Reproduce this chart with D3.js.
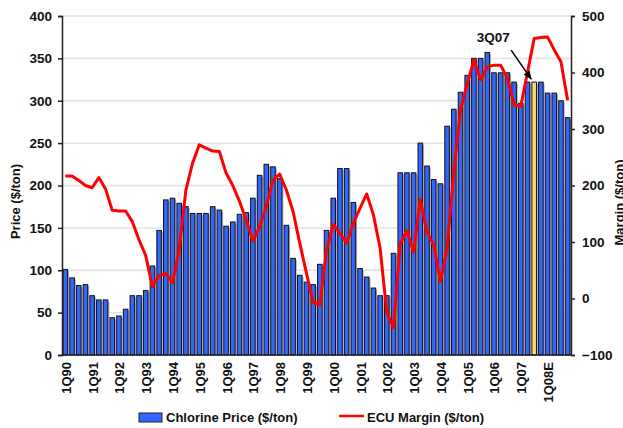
<!DOCTYPE html>
<html>
<head>
<meta charset="utf-8">
<script src="https://cdn.jsdelivr.net/npm/d3@7/dist/d3.min.js"></script>
<style>
  body { margin: 0; background: #fff; }
  svg { display: block; font-family: "Liberation Sans", Arial, sans-serif; font-weight: bold; }
</style>
</head>
<body>
<svg width="623" height="428"></svg>
<script>
// quarters 1Q90 .. 4Q08E
var quarters = [
  "1Q90","2Q90","3Q90","4Q90", "1Q91","2Q91","3Q91","4Q91",
  "1Q92","2Q92","3Q92","4Q92", "1Q93","2Q93","3Q93","4Q93",
  "1Q94","2Q94","3Q94","4Q94", "1Q95","2Q95","3Q95","4Q95",
  "1Q96","2Q96","3Q96","4Q96", "1Q97","2Q97","3Q97","4Q97",
  "1Q98","2Q98","3Q98","4Q98", "1Q99","2Q99","3Q99","4Q99",
  "1Q00","2Q00","3Q00","4Q00", "1Q01","2Q01","3Q01","4Q01",
  "1Q02","2Q02","3Q02","4Q02", "1Q03","2Q03","3Q03","4Q03",
  "1Q04","2Q04","3Q04","4Q04", "1Q05","2Q05","3Q05","4Q05",
  "1Q06","2Q06","3Q06","4Q06", "1Q07","2Q07","3Q07","4Q07",
  "1Q08E","2Q08E","3Q08E","4Q08E"
];

var tickLabels = ["1Q90","1Q91","1Q92","1Q93","1Q94","1Q95","1Q96","1Q97","1Q98",
  "1Q99","1Q00","1Q01","1Q02","1Q03","1Q04","1Q05","1Q06","1Q07","1Q08E"];

// chlorine price, $/ton (left axis)
var price = [
  101, 91, 82, 83,   70, 65, 65, 44,   46, 54, 70, 70,   76, 105, 147, 183,
  185, 179, 175, 167, 167, 167, 175, 171, 152, 157, 166, 168, 185, 212, 225, 222,
  208, 153, 114, 94,  86, 83, 107, 147, 185, 220, 220, 180, 102, 92, 79, 70,
  70, 120, 215, 215,  215, 250, 223, 207, 202, 270, 290, 310, 330, 350, 350, 357,
  333, 333, 333, 322, 297, 322, 322, 322, 309, 309, 300, 280
];

// ECU margin, $/ton (right axis)
var margin = [
  217, 217, 209, 200, 196, 214, 194, 156, 155, 155, 136, 104, 76, 21, 41, 44,
  28, 86, 192, 240,  272, 266, 261, 260, 222, 200, 172, 139, 102, 127, 163, 210,
  220, 192, 154, 98,  45, -7, -11, 86,   131, 116, 98, 133,  160, 185, 148, 89,
  -25, -52, 97, 120,  82, 175, 117, 95,  30, 88, 225, 334,  380, 422, 387, 410,
  413, 413, 390, 343, 340, 400, 460, 462, 463, 440, 419, 351
];

var highlight = "3Q07";
var priceTicks = [0, 50, 100, 150, 200, 250, 300, 350, 400];
var marginTicks = [-100, 0, 100, 200, 300, 400, 500];

var svg = d3.select("svg"),
    plotL = 62, plotR = 571, plotT = 16, plotB = 355;

var x = d3.scaleBand()
    .domain(quarters)
    .range([plotL, plotR])
    .paddingInner(0.32)
    .paddingOuter(0.16);

var y = d3.scaleLinear().domain([0, 400]).range([plotB, plotT]);
var y2 = d3.scaleLinear().domain([-100, 500]).range([plotB, plotT]);

// gridlines
svg.append("g")
  .selectAll("line")
  .data(priceTicks.slice(1))
  .enter().append("line")
    .attr("x1", plotL).attr("x2", plotR)
    .attr("y1", function(d) { return y(d); })
    .attr("y2", function(d) { return y(d); })
    .attr("stroke", "#e2e2e2")
    .attr("stroke-width", 1.5);

var data = quarters.map(function(q, i) { return {q: q, p: price[i], m: margin[i]}; });

// bar shadows
svg.append("g")
  .selectAll("rect")
  .data(data)
  .enter().append("rect")
    .attr("x", function(d) { return x(d.q) + 1.5; })
    .attr("y", function(d) { return y(d.p) + 1.5; })
    .attr("width", x.bandwidth())
    .attr("height", function(d) { return plotB - y(d.p) - 1.5; })
    .attr("fill", "#b4b4b4");

// bars
svg.append("g")
  .selectAll("rect")
  .data(data)
  .enter().append("rect")
    .attr("x", function(d) { return x(d.q); })
    .attr("y", function(d) { return y(d.p); })
    .attr("width", x.bandwidth())
    .attr("height", function(d) { return plotB - y(d.p); })
    .attr("fill", function(d) { return d.q == highlight ? "#fbdc7a" : "#3366ff"; })
    .attr("stroke", "#111")
    .attr("stroke-width", 1);

// margin line
var line = d3.line()
    .x(function(d) { return x(d.q) + x.bandwidth() / 2; })
    .y(function(d) { return y2(d.m); });

svg.append("path")
    .datum(data)
    .attr("d", line)
    .attr("fill", "none")
    .attr("stroke", "#ff0000")
    .attr("stroke-width", 3)
    .attr("stroke-linejoin", "round");

// axes
var axL = svg.append("g")
    .attr("transform", "translate(" + plotL + ",0)")
    .call(d3.axisLeft(y).tickValues(priceTicks).tickSize(4).tickPadding(6));
var axR = svg.append("g")
    .attr("transform", "translate(" + plotR + ",0)")
    .call(d3.axisRight(y2).tickValues(marginTicks).tickSize(4).tickPadding(7));

[axL, axR].forEach(function(a) {
  a.select(".domain").attr("stroke", "#222").attr("stroke-width", 1.5);
  a.selectAll(".tick line").attr("stroke", "#222").attr("stroke-width", 1.5);
  a.selectAll("text").attr("font-size", 13.5).attr("font-weight", "bold").attr("fill", "#111")
    .attr("font-family", "Liberation Sans, Arial, sans-serif");
});

svg.append("line")
    .attr("x1", plotL).attr("x2", plotR)
    .attr("y1", plotB).attr("y2", plotB)
    .attr("stroke", "#222").attr("stroke-width", 1.5);

// x labels
svg.append("g")
  .selectAll("text")
  .data(tickLabels)
  .enter().append("text")
    .attr("transform", function(d) {
      return "translate(" + (x(d) + x.bandwidth() / 2 + 5.5) + "," + (plotB + 7) + ") rotate(-90)";
    })
    .attr("text-anchor", "end")
    .attr("font-size", 13)
    .attr("fill", "#111")
    .text(function(d) { return d; });

// axis titles
svg.append("text")
    .attr("transform", "translate(20," + ((plotT + plotB) / 2 + 16) + ") rotate(-90)")
    .attr("text-anchor", "middle")
    .attr("font-size", 13)
    .attr("fill", "#111")
    .text("Price ($/ton)");

svg.append("text")
    .attr("transform", "translate(624," + ((plotT + plotB) / 2 + 17) + ") rotate(-90)")
    .attr("text-anchor", "middle")
    .attr("font-size", 13)
    .attr("fill", "#111")
    .text("Margin ($/ton)");

// 3Q07 annotation
var hx = x(highlight) + x.bandwidth() / 2,
    hy = y(price[quarters.indexOf(highlight)]);

svg.append("defs").append("marker")
    .attr("id", "arr")
    .attr("viewBox", "0 0 10 10")
    .attr("refX", 9).attr("refY", 5)
    .attr("markerWidth", 6).attr("markerHeight", 6)
    .attr("orient", "auto")
  .append("path")
    .attr("d", "M0,1 L10,5 L0,9 z")
    .attr("fill", "#000");

svg.append("line")
    .attr("x1", hx - 23).attr("y1", hy - 32)
    .attr("x2", hx - 3).attr("y2", hy - 3)
    .attr("stroke", "#000")
    .attr("stroke-width", 1.5)
    .attr("marker-end", "url(#arr)");

svg.append("text")
    .attr("x", hx - 41)
    .attr("y", hy - 40)
    .attr("text-anchor", "middle")
    .attr("font-size", 13.5)
    .attr("fill", "#111")
    .text("3Q07");

// legend
var lg = svg.append("g").attr("font-size", 13).attr("fill", "#111");
lg.append("rect")
    .attr("x", 139).attr("y", 413).attr("width", 23).attr("height", 9)
    .attr("fill", "#3366ff").attr("stroke", "#222").attr("stroke-width", 1);
lg.append("text").attr("x", 166).attr("y", 422).text("Chlorine Price ($/ton)");
lg.append("line")
    .attr("x1", 339).attr("x2", 364).attr("y1", 416).attr("y2", 416)
    .attr("stroke", "#ff0000").attr("stroke-width", 2.5);
lg.append("text").attr("x", 367).attr("y", 422).text("ECU Margin ($/ton)");
</script>
</body>
</html>
